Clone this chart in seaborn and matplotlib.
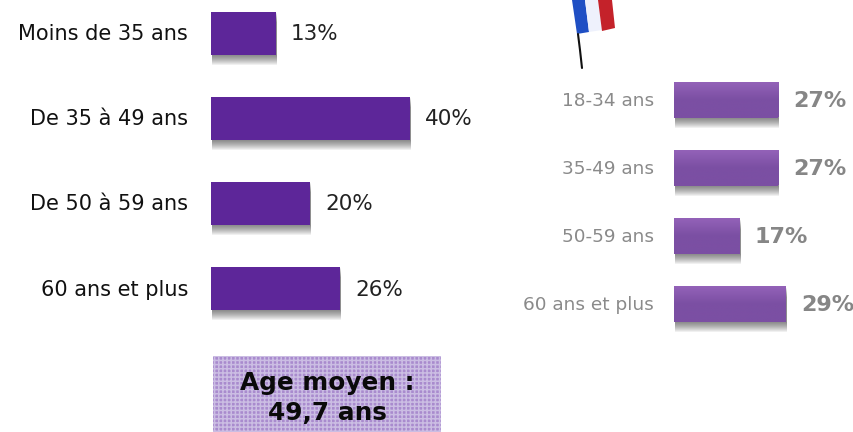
import matplotlib

matplotlib.use("Agg")
import matplotlib.patheffects as pe
import matplotlib.pyplot as plt
import numpy as np
import pandas as pd
import seaborn as sns
from matplotlib.colors import LinearSegmentedColormap
from matplotlib.patches import Polygon, Rectangle

# France respondents (left) and reference panel (right)
ages_left = ["Moins de 35 ans", "De 35 à 49 ans", "De 50 à 59 ans", "60 ans et plus"]
values_left = [13, 40, 20, 26]
ages_right = ["18-34 ans", "35-49 ans", "50-59 ans", "60 ans et plus"]
values_right = [27, 27, 17, 29]
avg_text = "Age moyen :\n49,7 ans"

W, H = 854, 432

sns.set_theme(style="white")
plt.rcParams["font.family"] = ["DejaVu Sans"]
plt.rcParams["hatch.linewidth"] = 1.1

fig = plt.figure(figsize=(W / 100, H / 100), dpi=100)


def make_axes(x0, x1, y0, y1):
    # pixel box, y measured from the top of the picture
    ax = fig.add_axes([x0 / W, 1 - y1 / H, (x1 - x0) / W, (y1 - y0) / H])
    ax.axis("off")
    return ax


def shadow(bar, color="#222222"):
    # soft drop shadow under a bar, offsets in px turned into points
    layers = []
    for off in [10, 9, 8, 7, 6, 5, 4, 3, 2, 1]:
        layers.append(pe.SimplePatchShadow(offset=(1 * 0.72, -off * 0.72), shadow_rgbFace=color, alpha=0.065))
    layers.append(pe.Normal())
    bar.set_path_effects(layers)


def draw_panel(ax, labels, values, color, label_color, value_kw, value_gap, label_gap, fs):
    df = pd.DataFrame({"age": labels, "value": values})
    sns.barplot(data=df, y="age", x="value", ax=ax, color=color, saturation=1, width=ax._bar_width, orient="h",
                edgecolor="none", linewidth=0)
    for bar, lab, val in zip(ax.patches, labels, values):
        shadow(bar)
        yc = bar.get_y() + bar.get_height() / 2
        ax.annotate(lab, (0, yc), xytext=(-label_gap, -1), textcoords="offset pixels", ha="right", va="center",
                    color=label_color, fontsize=fs, annotation_clip=False)
        ax.annotate(f"{val}%", (val, yc), xytext=(value_gap, -1), textcoords="offset pixels", ha="left", va="center",
                    annotation_clip=False, **value_kw)


# left panel: 85 px between bars
ax1 = make_axes(211, 211 + 4.97 * 50, 0, 331)
ax1._bar_width = 43.5 / 85
draw_panel(ax1, ages_left, values_left, "#5d2699", "#111111",
           dict(color="#222222", fontsize=15.5), 15, 23, 15)
ax1.set_xlim(0, 50)
ax1.set_ylim(3.5, -33.5 / 85)

# right panel: 68 px between bars
ax2 = make_axes(674, 674 + 3.86 * 40, 66, 338)
ax2._bar_width = 35 / 68
draw_panel(ax2, ages_right, values_right, "#7b4fa3", "#8a8a8a",
           dict(color="#868686", fontsize=16, fontweight="bold"), 15, 20, 13.3)

# lighter band on top of the right bars
grad = LinearSegmentedColormap.from_list("band", ["#9362b8", "#7b4fa3", "#7b4fa3"])
for bar in ax2.patches:
    x, y, w, h = bar.get_x(), bar.get_y(), bar.get_width(), bar.get_height()
    ax2.imshow(np.linspace(0, 1, 40).reshape(-1, 1), cmap=grad, aspect="auto", zorder=bar.get_zorder() + 0.1,
               extent=(x, x + w, y + h, y))
ax2.set_xlim(0, 40)
ax2.set_ylim(3.5, -0.5)

# full-picture overlay in pixel coordinates for box and flag
over = fig.add_axes([0, 0, 1, 1])
over.set_xlim(0, W)
over.set_ylim(H, 0)
over.axis("off")
over.patch.set_alpha(0)

over.add_patch(Rectangle((213, 356), 228, 76, facecolor="#a98bce", edgecolor="#cbbde3", lw=0, hatch="++++"))
over.text(327, 398, avg_text, ha="center", va="center", fontsize=17.8, fontweight="bold", color="#0a0a0a",
          linespacing=1.35)

# little flag
over.add_patch(Polygon([(572, 0), (585, 0), (589, 32), (577, 34)], facecolor="#1f4fc4", edgecolor="none"))
over.add_patch(Polygon([(585, 0), (598, 0), (602, 30), (589, 32)], facecolor="#eef1fc", edgecolor="none"))
over.add_patch(Polygon([(598, 0), (612, 0), (615, 28), (602, 31)], facecolor="#c4222a", edgecolor="none"))
over.plot([578, 580, 582], [34, 50, 68], color="#111111", lw=1.5)

fig.savefig("out.png", dpi=100)
